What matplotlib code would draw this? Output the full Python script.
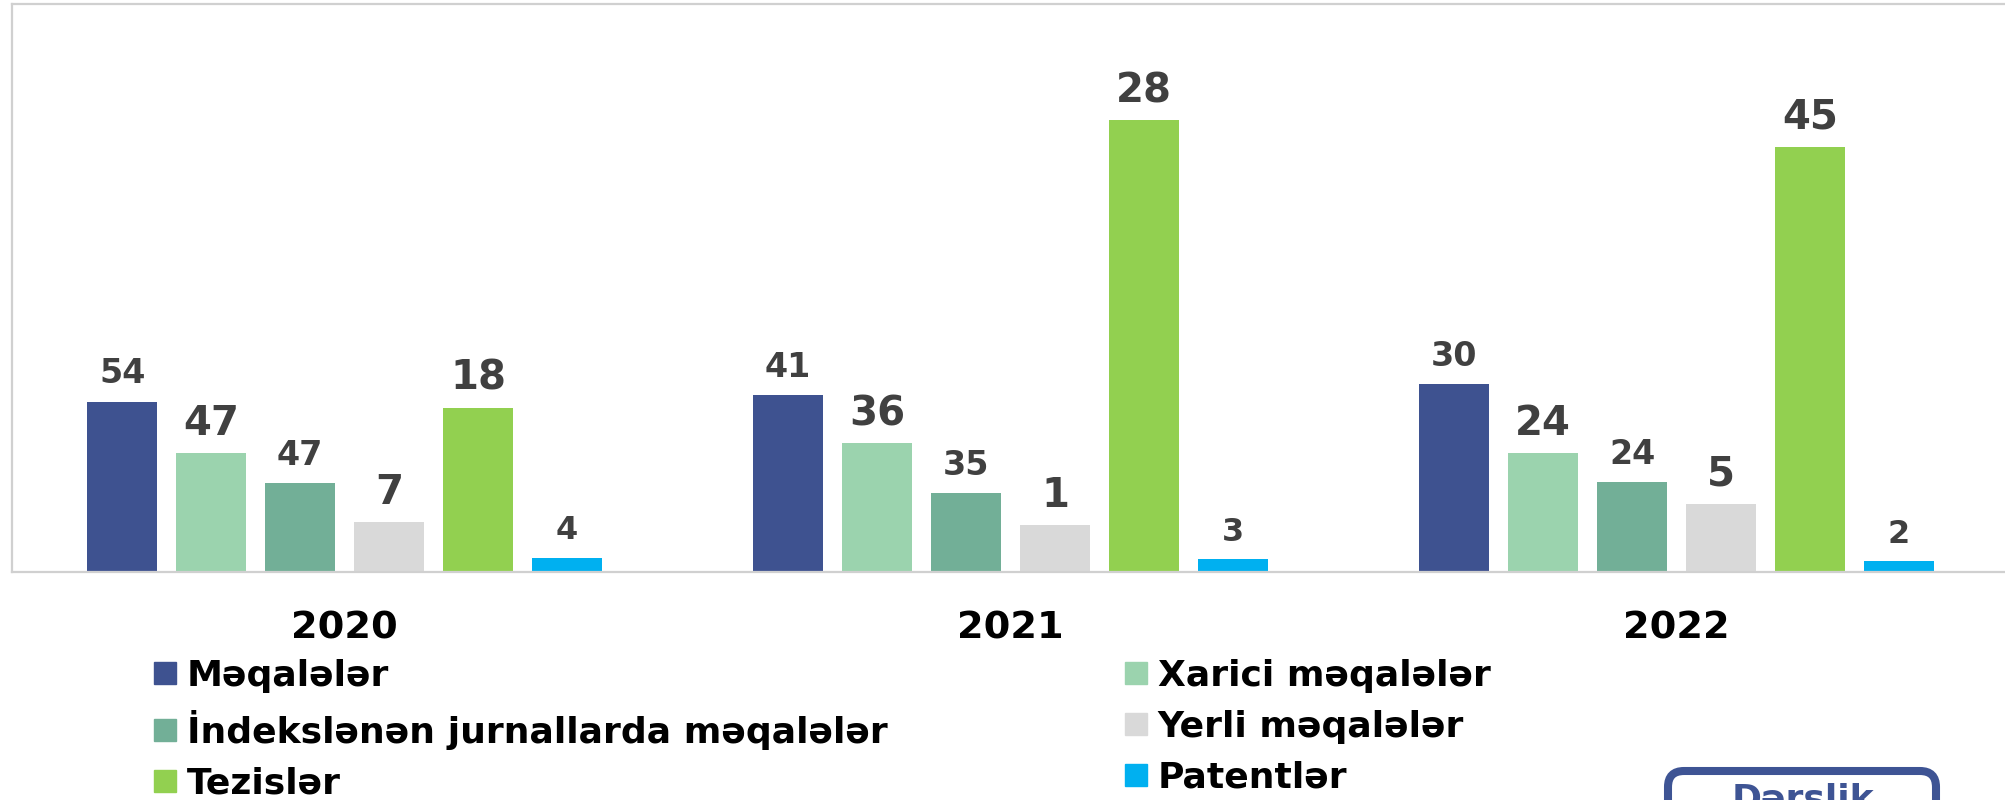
import numpy as np
import matplotlib
matplotlib.use("Agg")
import matplotlib.pyplot as plt
from matplotlib.patches import Patch, FancyBboxPatch

plt.rcParams['font.family'] = ['DejaVu Sans']

years = ['2020', '2021', '2022']
series = ['Məqalələr', 'Xarici məqalələr', 'İndekslənən jurnallarda məqalələr',
          'Yerli məqalələr', 'Tezislər', 'Patentlər']
colors = ['#3E5290', '#9BD3AE', '#72AF97', '#D9D9D9', '#92D050', '#00B0F0']

# bar heights as drawn (arbitrary scale, axis 0..100), one list per series
h_meqale = [30.0, 31.1, 33.1]
h_xarici = [21.0, 22.6, 21.0]
h_indeks = [15.6, 13.8, 15.8]
h_yerli = [8.8, 8.3, 12.0]
h_tezis = [28.9, 79.6, 74.9]
h_patent = [2.5, 2.3, 1.8]

# numbers written above the bars
l_meqale = [54, 41, 30]
l_xarici = [47, 36, 24]
l_indeks = [47, 35, 24]
l_yerli = [7, 1, 5]
l_tezis = [18, 28, 45]
l_patent = [4, 3, 2]

heights = [h_meqale, h_xarici, h_indeks, h_yerli, h_tezis, h_patent]
labels = [l_meqale, l_xarici, l_indeks, l_yerli, l_tezis, l_patent]
label_sizes = [24, 29, 24, 29, 29, 23]

fig = plt.figure(figsize=(20.05, 8), dpi=100)
ax = fig.add_axes([0.0058, 0.2854, 0.9965, 0.709])

x = np.arange(len(years))
step = 0.1336
width = 0.105
for i in range(len(series)):
    xs = x + (i - 2.5) * step
    ax.bar(xs, heights[i], width, color=colors[i], label=series[i])
    for xi, hi, li in zip(xs, heights[i], labels[i]):
        ax.annotate(str(li), (xi, hi), xytext=(0, 13), textcoords='offset points',
                    ha='center', va='baseline', fontsize=label_sizes[i],
                    fontweight='bold', color='#404040')

ax.set_xlim(-0.5, 2.5)
ax.set_ylim(0, 100)
ax.set_yticks([])
ax.set_xticks(x)
ax.set_xticklabels(years, fontsize=27.5, fontweight='bold', color='black')
ax.tick_params(axis='x', length=0, pad=28)
for s in ax.spines.values():
    s.set_color('#D0D0D0')
    s.set_linewidth(1.6)

handles = [Patch(color=c) for c in colors]
leg_kw = dict(loc='upper left', frameon=False, borderpad=0, borderaxespad=0,
              handlelength=0.61, handleheight=0.58, handletextpad=0.3,
              labelspacing=0.47, prop={'size': 26, 'weight': 'bold'})
fig.legend([handles[0], handles[2], handles[4]], [series[0], series[2], series[4]],
           bbox_to_anchor=(154 / 2005, 1 - 659 / 800), **leg_kw)
fig.legend([handles[1], handles[3], handles[5]], [series[1], series[3], series[5]],
           bbox_to_anchor=(1125 / 2005, 1 - 659 / 800), **leg_kw)

# partly visible button at the bottom right
box = FancyBboxPatch((16.68, -0.5), 2.68, 0.79, boxstyle='round,pad=0,rounding_size=0.16',
                     transform=fig.dpi_scale_trans, facecolor='white',
                     edgecolor='#3E5494', linewidth=5.8)
fig.patches.append(box)
fig.text(18.03, 0.17, 'Dərslik', transform=fig.dpi_scale_trans, ha='center', va='top',
         fontsize=26, fontweight='bold', color='#3E5494')

fig.savefig('out.png', dpi=100)
